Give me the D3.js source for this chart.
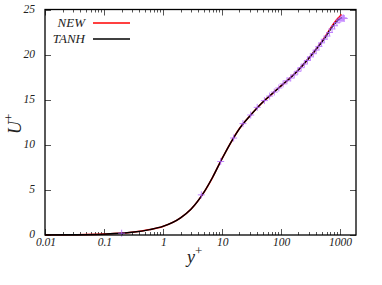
<!DOCTYPE html>
<html>
  <head>
    <style>
      html, body {
        padding: 0;
        margin: 0;
        overflow: hidden;
        background: #ffffff;
      }
      text {
        font-family: "Liberation Serif", "Times New Roman", Times, serif;
        font-style: italic;
        fill: #222;
      }
      .tick-label { font-size: 11.5px; }
      .legend-label { font-size: 13px; }
      .axis-title { font-size: 18px; }
    </style>
  </head>
  <body>
    <div id="chart"></div>
    <script src="https://cdnjs.cloudflare.com/ajax/libs/d3/7.8.5/d3.min.js"></script>
    <script>
      // velocity profile
      const yPlusTanh = [0.01, 0.03, 0.1, 0.3, 0.6, 1, 2, 3, 5, 7, 10, 15, 20, 30, 50, 70, 100, 150, 200, 300, 400, 500, 600, 700, 800, 900, 1000, 1100]
      const uPlusTanh = [0.01, 0.03, 0.1, 0.3, 0.6, 0.95, 1.9, 2.85, 4.75, 6.4, 8.4, 10.5, 11.8, 13.2, 14.75, 15.6, 16.5, 17.5, 18.3, 19.6, 20.6, 21.4, 22.1, 22.8, 23.3, 23.7, 23.95, 24.1]
      const yPlusNew = [0.01, 0.03, 0.1, 0.3, 0.6, 1, 2, 3, 5, 7, 10, 15, 20, 30, 50, 70, 100, 150, 200, 300, 400, 500, 600, 700, 800, 900, 1000, 1080]
      const uPlusNew = [0.01, 0.03, 0.1, 0.3, 0.6, 0.95, 1.9, 2.85, 4.75, 6.4, 8.4, 10.5, 11.8, 13.2, 14.75, 15.6, 16.5, 17.5, 18.3, 19.6, 20.6, 21.45, 22.2, 22.9, 23.45, 23.9, 24.2, 24.45]
      // reference points (+ markers)
      const yPlusPts = [0.2, 4.5, 9.6, 15.9, 22.9, 31, 40, 53, 65, 78, 93, 110, 128, 148, 170, 195, 222, 252, 285, 320, 358, 400, 445, 495, 550, 610, 675, 745, 820, 900, 980, 1050, 1100, 1140, 1170, 1200]
      const uPlusPts = [0.2, 4.45, 8.15, 10.75, 12.35, 13.3, 14.15, 14.9, 15.4, 15.85, 16.3, 16.75, 17.1, 17.4, 17.75, 18.15, 18.55, 18.95, 19.35, 19.75, 20.1, 20.5, 20.9, 21.3, 21.7, 22.05, 22.45, 22.85, 23.2, 23.55, 23.8, 23.95, 24.0, 24.05, 24.05, 24.0]

      const xTicks = [0.01, 0.1, 1, 10, 100, 1000]
      const xTickLabels = ['0.01', '0.1', '1', '10', '100', '1000']
      const yTicks = [0, 5, 10, 15, 20, 25]
      const legendNames = ['NEW', 'TANH']
      const legendColors = ['#ff0000', '#000000']

      let width = 382
      let height = 285
      let margin = { top: 9.5, right: 26, bottom: 50, left: 45 }

      let svg = d3.select('#chart')
        .append('svg')
        .attr('width', width)
        .attr('height', height)

      let x = d3.scaleLog()
        .domain([0.01, 1900])
        .range([margin.left, width - margin.right])

      let y = d3.scaleLinear()
        .domain([0, 25])
        .range([height - margin.bottom, margin.top])

      let x0 = margin.left, x1 = width - margin.right
      let y0 = height - margin.bottom, y1 = margin.top

      // minor ticks on the log axis
      let minor = []
      for (let d = 0.01; d < 1900; d *= 10) {
        for (let k = 2; k <= 9; k++) {
          if (d * k <= 1900) minor.push(d * k)
        }
      }

      let ticks = svg.append('g').attr('stroke', '#555').attr('stroke-width', 1)
      minor.forEach(v => {
        let px = Math.round(x(v)) + 0.5
        ticks.append('line').attr('x1', px).attr('x2', px).attr('y1', y0).attr('y2', y0 - 3)
        ticks.append('line').attr('x1', px).attr('x2', px).attr('y1', y1).attr('y2', y1 + 3)
      })
      xTicks.forEach(v => {
        let px = Math.round(x(v)) + 0.5
        ticks.append('line').attr('x1', px).attr('x2', px).attr('y1', y0).attr('y2', y0 - 6)
        ticks.append('line').attr('x1', px).attr('x2', px).attr('y1', y1).attr('y2', y1 + 6)
      })
      yTicks.forEach(v => {
        let py = Math.round(y(v)) + 0.5
        ticks.append('line').attr('x1', x0).attr('x2', x0 + 6).attr('y1', py).attr('y2', py)
        ticks.append('line').attr('x1', x1).attr('x2', x1 - 6).attr('y1', py).attr('y2', py)
      })

      // tick labels
      svg.append('g').selectAll('text')
        .data(xTicks)
        .enter().append('text')
        .attr('class', 'tick-label')
        .attr('x', d => x(d) + 1)
        .attr('y', y0 + 11)
        .attr('text-anchor', 'middle')
        .text((d, i) => xTickLabels[i])

      svg.append('g').selectAll('text')
        .data(yTicks)
        .enter().append('text')
        .attr('class', 'tick-label')
        .attr('x', x0 - 10)
        .attr('y', d => y(d) + 3)
        .attr('text-anchor', 'end')
        .text(d => d)

      // curves
      let line = d3.line()
        .x(d => x(d[0]))
        .y(d => y(d[1]))
        .curve(d3.curveMonotoneX)

      svg.append('path')
        .datum(d3.zip(yPlusNew, uPlusNew))
        .attr('fill', 'none')
        .attr('stroke', legendColors[0])
        .attr('stroke-width', 1.6)
        .attr('d', line)

      svg.append('path')
        .datum(d3.zip(yPlusTanh, uPlusTanh))
        .attr('fill', 'none')
        .attr('stroke', legendColors[1])
        .attr('stroke-width', 1.4)
        .attr('d', line)

      // + markers
      let pts = svg.append('g')
        .attr('stroke', '#b366ff')
        .attr('stroke-width', 1)
        .attr('opacity', 0.8)
      d3.zip(yPlusPts, uPlusPts).forEach(p => {
        let px = x(p[0]), py = y(p[1])
        pts.append('line').attr('x1', px - 3.5).attr('x2', px + 3.5).attr('y1', py).attr('y2', py)
        pts.append('line').attr('x1', px).attr('x2', px).attr('y1', py - 3.5).attr('y2', py + 3.5)
      })

      // border
      svg.append('rect')
        .attr('x', x0)
        .attr('y', y1)
        .attr('width', x1 - x0)
        .attr('height', y0 - y1)
        .attr('fill', 'none')
        .attr('stroke', '#000')
        .attr('stroke-width', 1.3)

      // legend
      legendNames.forEach((name, i) => {
        let ly = 23 + i * 16
        svg.append('text')
          .attr('class', 'legend-label')
          .attr('x', 85)
          .attr('y', ly + 4)
          .attr('text-anchor', 'end')
          .text(name)
        svg.append('line')
          .attr('x1', 93).attr('x2', 130)
          .attr('y1', ly).attr('y2', ly)
          .attr('stroke', legendColors[i])
          .attr('stroke-width', 1.4)
      })

      // axis titles
      let xt = svg.append('text')
        .attr('class', 'axis-title')
        .attr('x', 187)
        .attr('y', 263)
      xt.append('tspan').text('y')
      xt.append('tspan').attr('dy', -8).attr('font-size', 13).attr('font-style', 'normal').text('+')

      let yt = svg.append('text')
        .attr('class', 'axis-title')
        .attr('transform', 'translate(21,134) rotate(-90)')
      yt.append('tspan').text('U')
      yt.append('tspan').attr('dy', -8).attr('font-size', 13).attr('font-style', 'normal').text('+')
    </script>
  </body>
</html>
